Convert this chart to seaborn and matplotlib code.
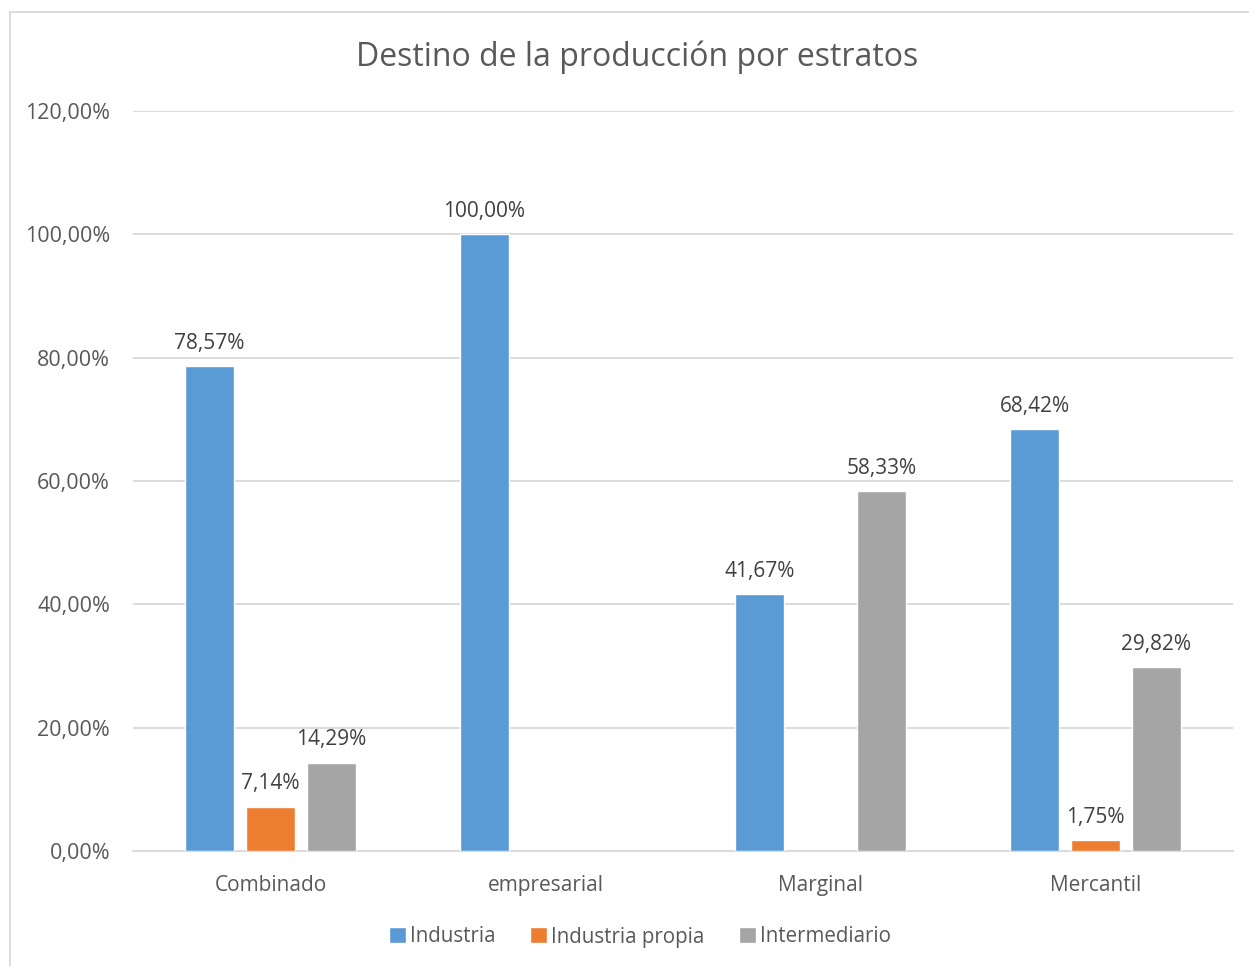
import numpy as np
import pandas as pd
import seaborn as sns
import matplotlib.pyplot as plt
from matplotlib.patches import Rectangle, Patch

### Data (NaN = no bar)
estratos = ['Combinado', 'empresarial', 'Marginal', 'Mercantil']
industria = [78.57, 100.00, 41.67, 68.42]
industria_propia = [7.14, np.nan, np.nan, 1.75]
intermediario = [14.29, np.nan, 58.33, 29.82]
series = ['Industria', 'Industria propia', 'Intermediario']
colores = ['#5B9BD5', '#ED7D31', '#A5A5A5']
yticks = [0, 20, 40, 60, 80, 100, 120]

df = pd.DataFrame({'estrato': estratos * 3,
                   'serie': np.repeat(series, len(estratos)),
                   'valor': industria + industria_propia + intermediario})
df = df.dropna()

sns.set_style('white')
plt.rcParams['font.family'] = ['Open Sans', 'DejaVu Sans']

fig = plt.figure(figsize=(12.49, 9.66), dpi=100)
ax = fig.add_axes([133/1249, 1 - 851/966, 1100/1249, 740/966])

sns.barplot(data=df, x='estrato', y='valor', hue='serie', order=estratos,
            hue_order=series, palette=colores, width=0.665, gap=0.21,
            saturation=1, errorbar=None, legend=False, ax=ax, zorder=3)

def fmt(v):
    return '{:.2f}%'.format(v).replace('.', ',')

for cont in ax.containers:
    ax.bar_label(cont, labels=[fmt(v) for v in cont.datavalues],
                 padding=9, fontsize=15, color='#404040')

ax.set_ylim(0, 120)
ax.set_xlim(-0.5, 3.5)
ax.set_yticks(yticks)
ax.set_yticklabels([fmt(t) for t in yticks])
ax.yaxis.grid(True, color='#D9D9D9', linewidth=1.3, zorder=0)
ax.set_axisbelow(True)
for s in ['top', 'right', 'left']:
    ax.spines[s].set_visible(False)
ax.spines['bottom'].set_color('#D9D9D9')
ax.spines['bottom'].set_linewidth(1.3)
ax.tick_params(axis='y', length=0, pad=16.5, labelsize=15.5, labelcolor='#595959')
ax.tick_params(axis='x', length=0, pad=17, labelsize=15, labelcolor='#595959')
ax.set_xlabel('')
ax.set_ylabel('')

fig.text(0.510, 1 - 57/966, 'Destino de la producción por estratos',
         ha='center', va='center', fontsize=23, color='#595959')

handles = [Patch(facecolor=c, label=s) for c, s in zip(colores, series)]
fig.legend(handles=handles, loc='center', bbox_to_anchor=(0.5125, 1 - 937/966),
           ncol=3, frameon=False, fontsize=14.8, labelcolor='#595959',
           handlelength=0.8, handleheight=0.8, handletextpad=0.2,
           columnspacing=1.7)

# chart border (Excel chart area)
fig.patches.append(Rectangle((10/1249, -0.05), 1.2, 1 - 12/966 + 0.05,
                             transform=fig.transFigure, fill=False,
                             edgecolor='#D9D9D9', linewidth=1.3))

fig.savefig('out.png', dpi=100)
